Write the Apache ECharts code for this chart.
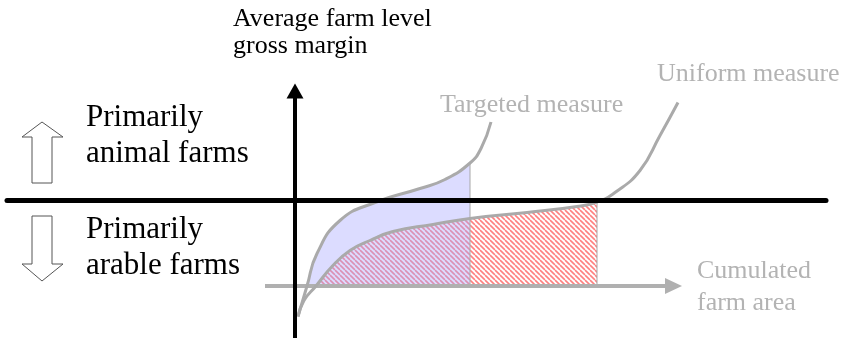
<!DOCTYPE html>
<html>
<head>
<meta charset="utf-8">
<script src="https://cdn.jsdelivr.net/npm/echarts@6/dist/echarts.min.js"></script>
<style>
html, body { margin: 0; padding: 0; background: #fff; }
#chart { width: 843px; height: 338px; }
</style>
</head>
<body>
<div id="chart"></div>
<script>
// curves: [cumulated farm area, average gross margin] (arbitrary units, origin at axis crossing)
var targetedCurve = [[3, -116], [12, -85.5], [22, -53], [45, -20], [80, -2], [125, 12], [150, 21], [175, 37.5], [186, 52], [196, 78.5]];
var uniformCurve = [[3, -116], [9, -100], [21, -85.5], [37, -66], [55, -50], [75, -40], [98, -31], [138, -24], [175, -18], [232, -12], [282, -6], [302, -1.5], [320, 8], [345, 30], [365, 65], [383, 98]];
// level of the cumulated area arrow and its extent
var areaAxisLevel = -85.5;
var areaAxisRange = [-30, 387];
// indexes of the filled part of each curve
var targetedFill = [1, 7];
var uniformFill = [2, 11];

var blueArea = targetedCurve.slice(targetedFill[0], targetedFill[1] + 1);
var redArea = uniformCurve.slice(uniformFill[0], uniformFill[1] + 1);
var blueEnd = blueArea[blueArea.length - 1];
var redEnd = redArea[redArea.length - 1];

// diagonal hatch pattern
function hatch() {
    var c = document.createElement('canvas');
    c.width = 5;
    c.height = 5;
    var ctx = c.getContext('2d');
    ctx.strokeStyle = '#ff8080';
    ctx.lineWidth = 1.6;
    [-5, 0, 5].forEach(function (x0) {
        ctx.beginPath();
        ctx.moveTo(x0, 0);
        ctx.lineTo(x0 + 5, 5);
        ctx.stroke();
    });
    return c;
}

var serif = '"Liberation Serif", "Times New Roman", serif';
var grey = '#b3b3b3';
var smooth = 0.5;

function label(text, x, y, size, lh, color) {
    return {
        type: 'text',
        z: 20,
        style: {
            text: text, x: x, y: y,
            font: size + 'px ' + serif,
            lineHeight: lh,
            fill: color,
            verticalAlign: 'top'
        }
    };
}

function blockArrow(points) {
    return {
        type: 'polygon',
        z: 20,
        shape: { points: points },
        style: { fill: '#fff', stroke: '#555', lineWidth: 1 }
    };
}

var chart = echarts.init(document.getElementById('chart'), null, { renderer: 'canvas' });

chart.setOption({
    animation: false,
    grid: { left: 7, right: 17, top: 91, bottom: 0 },
    xAxis: {
        type: 'value', min: -288, max: 531, z: 10,
        axisLine: { onZero: true, lineStyle: { color: '#000', width: 5 } },
        axisTick: { show: false }, axisLabel: { show: false }, splitLine: { show: false }
    },
    yAxis: {
        type: 'value', min: -137.5, max: 109.5, z: 10,
        axisLine: {
            onZero: true, symbol: ['none', 'triangle'], symbolSize: [17, 15],
            lineStyle: { color: '#000', width: 4 }
        },
        axisTick: { show: false }, axisLabel: { show: false }, splitLine: { show: false }
    },
    series: [
        {
            type: 'line', data: redArea, smooth: smooth,
            symbol: 'none', lineStyle: { width: 0 }, z: 2,
            areaStyle: { origin: areaAxisLevel, opacity: 1, color: { image: hatch(), repeat: 'repeat' } }
        },
        {
            type: 'line', data: blueArea, smooth: smooth,
            symbol: 'none', lineStyle: { width: 0 }, z: 3,
            areaStyle: { origin: areaAxisLevel, color: 'rgba(168,168,255,0.4)', opacity: 1 }
        },
        {
            type: 'line', data: [blueEnd, [blueEnd[0], areaAxisLevel]],
            symbol: 'none', lineStyle: { color: '#a8a8a8', width: 1 }, z: 4
        },
        {
            type: 'line', data: [redEnd, [redEnd[0], areaAxisLevel]],
            symbol: 'none', lineStyle: { color: '#a8a8a8', width: 1 }, z: 4,
            markLine: {
                silent: true, symbol: ['none', 'triangle'], symbolSize: [16, 17],
                label: { show: false },
                lineStyle: { color: '#b0b0b0', width: 4, type: 'solid' },
                data: [[{ coord: [areaAxisRange[0], areaAxisLevel] }, { coord: [areaAxisRange[1] - 8.5, areaAxisLevel] }]]
            }
        },
        {
            name: 'Targeted measure', type: 'line', data: targetedCurve, smooth: smooth,
            symbol: 'none', lineStyle: { color: '#aaaaaa', width: 3 }, z: 5
        },
        {
            name: 'Uniform measure', type: 'line', data: uniformCurve, smooth: smooth,
            symbol: 'none', lineStyle: { color: '#aaaaaa', width: 3 }, z: 5
        }
    ],
    graphic: [
        label('Average farm level\ngross margin', 233, 6, 26, 27, '#000'),
        label('Primarily\nanimal farms', 86, 100, 31, 36, '#000'),
        label('Primarily\narable farms', 86, 212, 31, 36, '#000'),
        label('Targeted measure', 440, 90, 26, 30, grey),
        label('Uniform measure', 657, 59, 26, 30, grey),
        label('Cumulated\nfarm area', 697, 255, 26, 32, grey),
        blockArrow([[42, 122], [63, 137], [52, 137], [52, 183], [32, 183], [32, 137], [22, 137]]),
        blockArrow([[32, 216], [52, 216], [52, 264], [63, 264], [42, 281], [22, 264], [32, 264]])
    ]
});
</script>
</body>
</html>
